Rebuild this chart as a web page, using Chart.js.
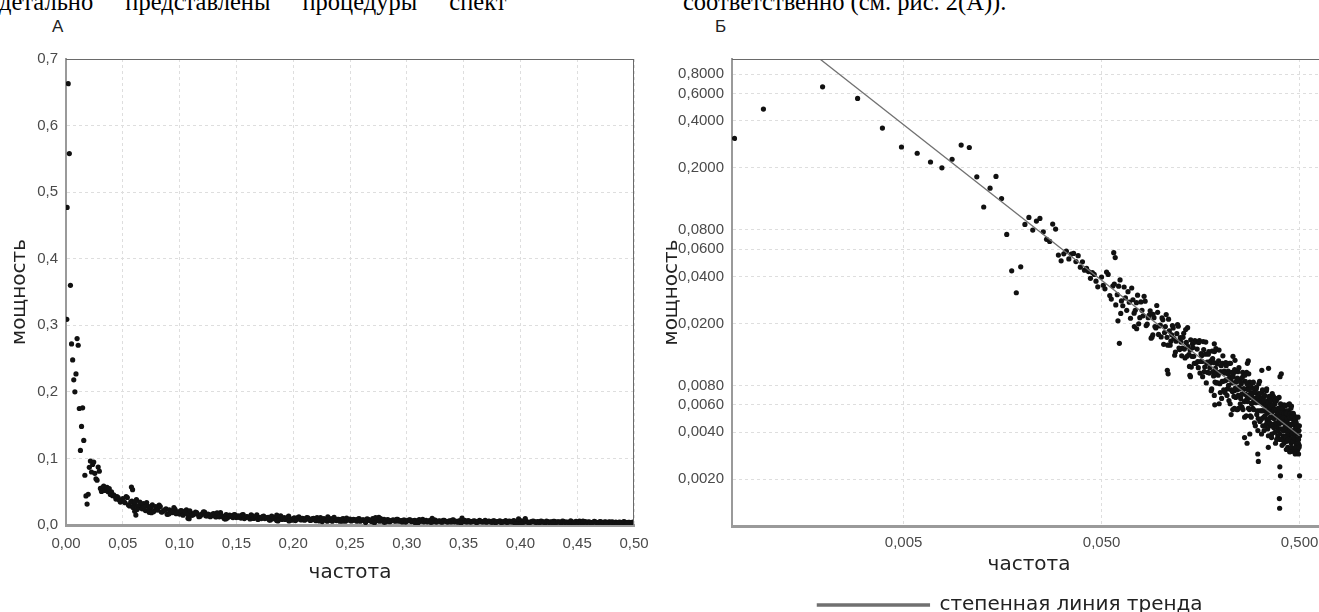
<!DOCTYPE html>
<html><head><meta charset="utf-8">
<script src="https://cdn.jsdelivr.net/npm/chart.js@4.4.1/dist/chart.umd.min.js"></script>
<style>
html,body{margin:0;padding:0;width:1319px;height:612px;overflow:hidden;background:#fff;}
.txt{position:absolute;font-family:"Liberation Serif","Times New Roman",serif;font-size:24.5px;line-height:26px;top:-11px;white-space:nowrap;color:#000;}
.lbl{position:absolute;font-family:"Liberation Sans",Arial,sans-serif;font-size:17px;line-height:17px;color:#222;top:18px;}
#wa{position:absolute;left:0;top:40px;}
#wb{position:absolute;left:660px;top:40px;}
</style></head>
<body>
<div class="txt" style="left:-1px;word-spacing:26px">детально представлены процедуры спект</div>
<div class="txt" style="left:683px">соответственно (см. рис. 2(А)).</div>
<div class="lbl" style="left:52px">А</div>
<div class="lbl" style="left:715px">Б</div>
<div id="wa"><canvas id="ca" width="660" height="572"></canvas></div>
<div id="wb"><canvas id="cb" width="700" height="585"></canvas></div>
<script>
// ---- data ----
const lowFreq=[0.0007,0.00098,0.00195,0.00293,0.00391,0.00488,0.00586,0.00684,0.00781,0.00879,0.00977,0.01074,0.01172,0.0127,0.01367,0.01465,0.01563,0.0166,0.01758,0.01855,0.01953,0.02051,0.02148,0.02246,0.02344,0.02441,0.02539,0.02637,0.02734,0.02832,0.0293,0.03027,0.03125,0.03223,0.0332,0.03418,0.03516,0.03613,0.03711,0.03809,0.03906,0.04004,0.04102,0.04199,0.04297,0.04395,0.04492,0.0459,0.04688,0.04785];
const lowPower=[0.309,0.477,0.663,0.558,0.360,0.272,0.248,0.218,0.200,0.227,0.280,0.270,0.175,0.112,0.148,0.176,0.127,0.0747,0.0436,0.0315,0.0462,0.0866,0.0960,0.0796,0.0909,0.0946,0.0776,0.0694,0.0673,0.0870,0.0808,0.0550,0.0505,0.0560,0.0583,0.0520,0.0558,0.0564,0.0500,0.0545,0.0460,0.0498,0.0440,0.0452,0.0431,0.0390,0.0425,0.0413,0.0374,0.0344];
const midFreq=[0.050,0.052,0.054,0.056,0.058,0.060,0.062,0.064,0.066,0.068,0.070,0.072,0.074,0.076,0.078,0.080,0.082,0.084,0.086,0.088,0.090,0.092,0.094,0.096,0.098,0.100,0.102,0.104,0.106,0.108,0.110,0.112,0.114,0.116,0.118,0.120,0.122,0.124,0.126,0.128,0.130,0.132,0.134,0.136,0.138,0.140,0.142,0.144,0.146,0.148,0.150];
const midPower=[0.0397,0.0334,0.0413,0.0287,0.0358,0.0306,0.0381,0.0260,0.0292,0.0320,0.0216,0.0284,0.0243,0.0304,0.0218,0.0243,0.0299,0.0194,0.0218,0.0241,0.0164,0.0218,0.0187,0.0236,0.0193,0.0164,0.0211,0.0175,0.0228,0.0145,0.0179,0.0154,0.0194,0.0160,0.0131,0.0172,0.0192,0.0136,0.0152,0.0139,0.0173,0.0120,0.0151,0.0188,0.0126,0.0135,0.0105,0.0148,0.0123,0.0155,0.0111];
const midFreq2=[0.051,0.053,0.055,0.057,0.059,0.061,0.063,0.065,0.067,0.069,0.071,0.073,0.075,0.077,0.079,0.081,0.083,0.085,0.087,0.089,0.091,0.093,0.095,0.097,0.099,0.101,0.103,0.105,0.107,0.109,0.111,0.113,0.115,0.117,0.119,0.121,0.123,0.125,0.127,0.129,0.131,0.133,0.135,0.137,0.139,0.141,0.143,0.145,0.147,0.149];
const midPower2=[0.0352,0.0428,0.0302,0.0348,0.0263,0.0347,0.0279,0.0343,0.0243,0.0274,0.0338,0.0233,0.0272,0.0199,0.0275,0.0224,0.0278,0.0198,0.0226,0.0161,0.0229,0.0191,0.0261,0.0170,0.0195,0.0217,0.0147,0.0191,0.0163,0.0213,0.0145,0.0169,0.0187,0.0125,0.0154,0.0197,0.0139,0.0162,0.0124,0.0163,0.0137,0.0183,0.0123,0.0142,0.0106,0.0157,0.0123,0.0140,0.0111,0.0152];
const highFreq=[0.152,0.154,0.156,0.158,0.160,0.162,0.164,0.166,0.168,0.170,
0.172,0.174,0.176,0.178,0.180,0.182,0.184,0.186,0.188,0.190,
0.192,0.194,0.196,0.198,0.200,0.202,0.204,0.206,0.208,0.210,
0.212,0.214,0.216,0.218,0.220,0.222,0.224,0.226,0.228,0.230,
0.232,0.234,0.236,0.238,0.240,0.242,0.244,0.246,0.248,0.250,
0.252,0.254,0.256,0.258,0.260,0.262,0.264,0.266,0.268,0.270,
0.272,0.274,0.276,0.278,0.280,0.282,0.284,0.286,0.288,0.290,
0.292,0.294,0.296,0.298,0.300,0.302,0.304,0.306,0.308,0.310,
0.312,0.314,0.316,0.318,0.320,0.322,0.324,0.326,0.328,0.330,
0.332,0.334,0.336,0.338,0.340,0.342,0.344,0.346,0.348,0.350,
0.352,0.354,0.356,0.358,0.360,0.362,0.364,0.366,0.368,0.370,
0.372,0.374,0.376,0.378,0.380,0.382,0.384,0.386,0.388,0.390,
0.392,0.394,0.396,0.398,0.400,0.402,0.404,0.406,0.408,0.410,
0.412,0.414,0.416,0.418,0.420,0.422,0.424,0.426,0.428,0.430,
0.432,0.434,0.436,0.438,0.440,0.442,0.444,0.446,0.448,0.450,
0.452,0.454,0.456,0.458,0.460,0.462,0.464,0.466,0.468,0.470,
0.472,0.474,0.476,0.478,0.480,0.482,0.484,0.486,0.488,0.490,
0.492,0.494,0.496,0.498,0.500];
const highPower=[0.0137,0.0104,0.0155,0.0114,0.0124,0.0091,0.0136,0.0105,0.0152,0.0111,
0.0097,0.0132,0.0104,0.0115,0.0076,0.0119,0.0092,0.0132,0.0103,0.0083,
0.0110,0.0093,0.0135,0.0082,0.0098,0.0066,0.0111,0.0085,0.0099,0.0072,
0.0112,0.0087,0.0076,0.0099,0.0064,0.0090,0.0111,0.0075,0.0083,0.0056,
0.0096,0.0074,0.0116,0.0067,0.0084,0.0075,0.0098,0.0057,0.0078,0.0087,
0.0066,0.0082,0.0058,0.0097,0.0071,0.0076,0.0050,0.0085,0.0064,0.0097,
0.0066,0.0077,0.0057,0.0069,0.0084,0.0051,0.0072,0.0061,0.0077,0.0057,
0.0084,0.0063,0.0046,0.0072,0.0063,0.0076,0.0052,0.0066,0.0041,0.0071,
0.0055,0.0085,0.0062,0.0048,0.0066,0.0055,0.0073,0.0044,0.0060,0.0050,
0.0068,0.0055,0.0044,0.0061,0.0074,0.0048,0.0055,0.0064,0.0038,0.0058,
0.0049,0.0067,0.0044,0.0055,0.0060,0.0039,0.0071,0.0050,0.0056,0.0043,
0.0057,0.0045,0.0061,0.0034,0.0051,0.0064,0.0043,0.0052,0.0038,0.0057,
0.0045,0.0067,0.0048,0.0036,0.0053,0.0042,0.0058,0.0046,0.0033,0.0048,
0.0055,0.0038,0.0048,0.0060,0.0041,0.0035,0.0051,0.0044,0.0038,0.0055,
0.0042,0.0048,0.0032,0.0055,0.0044,0.0038,0.0049,0.0030,0.0044,0.0039,
0.0057,0.0034,0.0045,0.0039,0.0049,0.0031,0.0041,0.0046,0.0035,0.0051,
0.0037,0.0044,0.0030,0.0048,0.0039,0.0033,0.0044,0.0035,0.0041,0.0031,
0.0044,0.0036,0.0041,0.0033,0.0038];
const highFreq2=[0.153,0.155,0.157,0.159,0.161,0.163,0.165,0.167,0.169,0.171,
0.173,0.175,0.177,0.179,0.181,0.183,0.185,0.187,0.189,0.191,
0.193,0.195,0.197,0.199,0.201,0.203,0.205,0.207,0.209,0.211,
0.213,0.215,0.217,0.219,0.221,0.223,0.225,0.227,0.229,0.231,
0.233,0.235,0.237,0.239,0.241,0.243,0.245,0.247,0.249,0.251,
0.253,0.255,0.257,0.259,0.261,0.263,0.265,0.267,0.269,0.271,
0.273,0.275,0.277,0.279,0.281,0.283,0.285,0.287,0.289,0.291,
0.293,0.295,0.297,0.299,0.301,0.303,0.305,0.307,0.309,0.311,
0.313,0.315,0.317,0.319,0.321,0.323,0.325,0.327,0.329,0.331,
0.333,0.335,0.337,0.339,0.341,0.343,0.345,0.347,0.349,0.351,
0.353,0.355,0.357,0.359,0.361,0.363,0.365,0.367,0.369,0.371,
0.373,0.375,0.377,0.379,0.381,0.383,0.385,0.387,0.389,0.391,
0.393,0.395,0.397,0.399,0.401,0.403,0.405,0.407,0.409,0.411,
0.413,0.415,0.417,0.419,0.421,0.423,0.425,0.427,0.429,0.431,
0.433,0.435,0.437,0.439,0.441,0.443,0.445,0.447,0.449,0.451,
0.453,0.455,0.457,0.459,0.461,0.463,0.465,0.467,0.469,0.471,
0.473,0.475,0.477,0.479,0.481,0.483,0.485,0.487,0.489,0.491,
0.493,0.495,0.497,0.499];
const highPower2=[0.0114,0.0151,0.0096,0.0128,0.0114,0.0153,0.0098,0.0127,0.0083,0.0113,
0.0127,0.0096,0.0112,0.0074,0.0133,0.0098,0.0112,0.0084,0.0138,0.0097,
0.0083,0.0115,0.0097,0.0072,0.0107,0.0085,0.0124,0.0075,0.0096,0.0086,
0.0107,0.0069,0.0095,0.0080,0.0111,0.0061,0.0087,0.0097,0.0073,0.0091,
0.0068,0.0101,0.0077,0.0085,0.0056,0.0089,0.0069,0.0104,0.0076,0.0061,
0.0084,0.0070,0.0090,0.0056,0.0076,0.0063,0.0093,0.0070,0.0051,0.0082,
0.0063,0.0075,0.0095,0.0056,0.0067,0.0080,0.0050,0.0070,0.0062,0.0083,
0.0056,0.0066,0.0074,0.0044,0.0062,0.0078,0.0055,0.0068,0.0049,0.0082,
0.0063,0.0047,0.0071,0.0055,0.0063,0.0049,0.0075,0.0055,0.0064,0.0041,
0.0069,0.0051,0.0059,0.0045,0.0076,0.0053,0.0042,0.0062,0.0054,0.0068,
0.0046,0.0059,0.0050,0.0064,0.0037,0.0054,0.0060,0.0045,0.0068,0.0049,
0.0055,0.0040,0.0064,0.0046,0.0056,0.0036,0.0050,0.0066,0.0041,0.0053,
0.0047,0.0057,0.0039,0.0050,0.0061,0.0042,0.0054,0.0036,0.0047,0.0057,
0.0041,0.0050,0.0034,0.0053,0.0043,0.0059,0.0037,0.0046,0.0053,0.0035,
0.0049,0.0040,0.0060,0.0036,0.0045,0.0031,0.0050,0.0041,0.0053,0.0036,
0.0045,0.0032,0.0051,0.0039,0.0045,0.0035,0.0053,0.0037,0.0030,0.0046,
0.0040,0.0049,0.0032,0.0042,0.0046,0.0034,0.0030,0.0043,0.0036,0.0050,
0.0034,0.0041,0.0032,0.0044];
const outFreq=[0.0576,0.0586,0.0605,0.0615,0.0625,0.0732,0.0752,0.0908,0.1074,0.1084,0.1396,0.1406,0.1855,0.1963,0.1865,0.2256,0.2344,0.2432,0.2637,0.2715,0.2803,0.3076,0.3096,0.3213,0.3477,0.3975,0.4004,0.3955,0.3965,0.5000,0.3984,0.4043,0.3486,0.3223,0.2754,0.2725,0.2305,0.1855,0.4443,0.4551,0.4287,0.4473,0.4756,0.4941];
const outPower=[0.0570,0.0530,0.0208,0.0149,0.0232,0.0191,0.0185,0.0169,0.0100,0.0095,0.0093,0.0091,0.0069,0.0061,0.0060,0.0052,0.0057,0.0056,0.0037,0.0034,0.0039,0.0029,0.0026,0.0039,0.0032,0.0024,0.0021,0.0015,0.0013,0.0021,0.0091,0.0095,0.0103,0.0100,0.0115,0.0111,0.0123,0.0148,0.0061,0.0059,0.0031,0.0030,0.0029,0.0029];
const trendFreq=[0.00189,0.5];
const trendPower=[1.0,0.0038];
const logTicksY=[0.002,0.004,0.006,0.008,0.02,0.04,0.06,0.08,0.2,0.4,0.6,0.8];
const logTicksX=[0.005,0.05,0.5];
const xTitle='частота', yTitle='мощность', trendLabel='степенная линия тренда', seriesLabel='спектр';

// ---- helpers ----
function pairs(f,p){return f.map((v,i)=>({x:v,y:p[i]}));}
function fmt(v,d){return Number(v).toFixed(d).replace('.',',');}
const spectrum=[].concat(pairs(lowFreq,lowPower),pairs(midFreq,midPower),pairs(midFreq2,midPower2),pairs(highFreq,highPower),pairs(highFreq2,highPower2),pairs(outFreq,outPower));
const tickFont={family:'"Liberation Sans", Arial, sans-serif',size:15};
const titleFont={family:'"DejaVu Sans", sans-serif',size:20};
const tickColor='#4a4a4a', titleColor='#222', gridColor='#dedede', axisColor='#9a9a9a';
const frame={id:'frame',afterDraw(c){const a=c.chartArea,x=c.ctx;x.save();x.strokeStyle='#6a6a6a';x.lineWidth=1;x.beginPath();x.moveTo(a.left,a.top+0.5);x.lineTo(a.right,a.top+0.5);x.moveTo(a.right-0.5,a.top);x.lineTo(a.right-0.5,a.bottom);x.stroke();x.restore();}};
const pointStyle={pointRadius:2.6,pointHoverRadius:2.6,backgroundColor:'#111',borderWidth:0};

new Chart(document.getElementById('ca'),{
  type:'scatter',
  data:{datasets:[Object.assign({label:seriesLabel,data:spectrum},pointStyle)]},
  options:{responsive:false,animation:false,events:[],
    layout:{padding:{top:19,right:26,left:0,bottom:0}},
    plugins:{legend:{display:false},tooltip:{enabled:false}},
    scales:{
      x:{type:'linear',min:0,max:0.5,
        ticks:{stepSize:0.05,callback:v=>fmt(v,2),font:tickFont,color:tickColor,padding:10,maxRotation:0,autoSkip:false},
        grid:{color:gridColor,drawTicks:false},
        border:{color:axisColor,width:3,dash:[3,3]},
        title:{display:true,text:xTitle,font:titleFont,color:titleColor,padding:{top:0,bottom:27}},
        afterFit:s=>{s.height=87;}},
      y:{type:'linear',min:0,max:0.7,
        ticks:{stepSize:0.1,callback:v=>fmt(v,1),font:tickFont,color:tickColor,padding:8},
        grid:{color:gridColor,drawTicks:false},
        border:{color:axisColor,width:2,dash:[3,3]},
        title:{display:true,text:yTitle,font:titleFont,color:titleColor,padding:{top:8,bottom:0}},
        afterFit:s=>{s.width=66;}}
    }},
  plugins:[frame]
});

new Chart(document.getElementById('cb'),{
  type:'scatter',
  data:{datasets:[
    {type:'line',label:trendLabel,data:pairs(trendFreq,trendPower),borderColor:'#707070',backgroundColor:'#707070',borderWidth:1.3,pointRadius:0,order:0},
    Object.assign({label:seriesLabel,data:spectrum,order:1},pointStyle)]},
  options:{responsive:false,animation:false,events:[],
    layout:{padding:{top:19,right:0,left:0,bottom:0}},
    plugins:{legend:{display:true,position:'bottom',
        labels:{filter:i=>i.datasetIndex===0,boxWidth:112,boxHeight:2,padding:10,font:titleFont,color:titleColor}},
      tooltip:{enabled:false}},
    scales:{
      x:{type:'logarithmic',min:0.00068,max:0.68,
        afterBuildTicks:s=>{s.ticks=logTicksX.map(v=>({value:v}));},
        ticks:{callback:v=>fmt(v,3),font:tickFont,color:tickColor,padding:8,maxRotation:0,autoSkip:false},
        grid:{color:gridColor,drawTicks:false},
        border:{color:axisColor,width:3,dash:[3,3]},
        title:{display:true,text:xTitle,font:titleFont,color:titleColor,padding:{top:0,bottom:8}},
        afterFit:s=>{s.height=59;}},
      y:{type:'logarithmic',min:0.001,max:1,
        afterBuildTicks:s=>{s.ticks=logTicksY.map(v=>({value:v}));},
        ticks:{callback:v=>fmt(v,4),font:tickFont,color:tickColor,padding:8,autoSkip:false},
        grid:{color:gridColor,drawTicks:false},
        border:{color:axisColor,width:2,dash:[3,3]},
        title:{display:true,text:yTitle,font:titleFont,color:titleColor,padding:{top:0,bottom:0}},
        afterFit:s=>{s.width=72;}},
      yRight:{type:'linear',position:'right',display:true,
        ticks:{display:false},grid:{display:false},border:{display:false},
        afterFit:s=>{s.width=34;}}
    }},
  plugins:[frame]
});
</script>
</body></html>
